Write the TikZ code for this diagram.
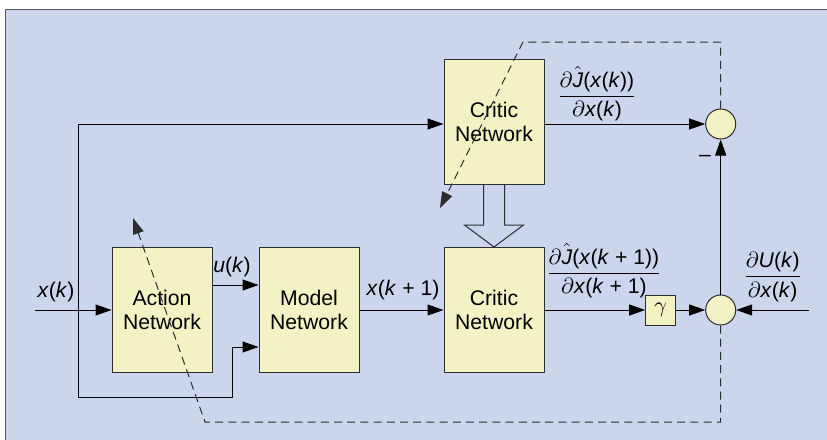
\documentclass[tikz,border=0pt]{standalone}
\usepackage{amsmath}
\usepackage{fontspec}
\setmainfont{Liberation Sans}
\usetikzlibrary{arrows.meta,calc}
\definecolor{bgblue}{RGB}{203,213,236}
\definecolor{boxyellow}{RGB}{242,242,196}
\definecolor{framegray}{RGB}{85,85,95}
\definecolor{linegray}{RGB}{45,45,45}
\newcommand{\iv}[1]{\textit{#1}}
\begin{document}
\begin{tikzpicture}[x=0.5pt,y=-0.5pt,
        font=\fontsize{10.6}{12.4}\selectfont,
        >={Triangle[length=8pt,width=5.5pt]},
        netbox/.style={draw=linegray,fill=boxyellow,line width=0.5pt,align=center,
            minimum width=50pt,minimum height=62.5pt,inner sep=0pt},
        sumnode/.style={draw=linegray,fill=boxyellow,circle,line width=0.5pt,
            minimum size=15pt,inner sep=0pt},
        sig/.style={line width=0.5pt},
        lbl/.style={inner sep=0.5pt},
        adapt/.style={dash pattern=on 4pt off 2.6pt,line width=0.5pt,draw=linegray}]
    \useasboundingbox (0,0) rectangle (827,440);
    \fill[bgblue] (5,9) rectangle (827,440);
    \draw[framegray,line width=0.8pt] (5.5,440) -- (5.5,9.5) -- (827,9.5);
    % blocks
    \node[netbox] (act) at (162,310) {Action\\Network};
    \node[netbox] (mod) at (309,310) {Model\\Network};
    \node[netbox] (cbot) at (494,310) {Critic\\Network};
    \node[netbox] (ctop) at (494,122) {Critic\\Network};
    \node[draw=linegray,fill=boxyellow,line width=0.5pt,minimum size=15pt,inner sep=0pt] (gam) at (660.7,310) {\(\gamma\)};
    \node[sumnode] (sbot) at (720.7,310) {};
    \node[sumnode] (stop) at (720.7,124) {};
    \coordinate (xin) at (35,310);
    \coordinate (jn) at (78,310);
    \coordinate (uin) at (809,310);
    % signals
    \draw[sig,->] (xin) -- (act.west);
    \draw[sig,->] (jn) |- ($(ctop.west)+(0,2)$);
    \draw[sig,->] (jn) -- (78,397) -- (232,397) |- ($(mod.west)+(0,37)$);
    \draw[sig,->] ($(act.east)+(0,-25)$) -- ($(mod.west)+(0,-25)$);
    \draw[sig,->] (mod.east) -- (cbot.west);
    \draw[sig,->] (cbot.east) -- (gam.west);
    \draw[sig,->] (gam.east) -- (sbot.west);
    \draw[sig,->] (uin) -- (sbot.east);
    \draw[sig,->] (sbot.north) -- (stop.south);
    \draw[sig,->] ($(ctop.east)+(0,2)$) -- (stop.west);
    % hollow arrow between critics
    \draw[linegray,line width=0.5pt] ($(ctop.south)+(-10.5,0)$) -- ++(0,40) -- ++(-19,0)
        -- (cbot.north) -- ($(ctop.south)+(29.5,40)$) -- ++(-19,0) -- ($(ctop.south)+(10.5,0)$);
    % adaptation paths
    \draw[adapt,->] (sbot.south) -- (720.7,422) -- (205,422) -- (133,218);
    \draw[adapt,->] (stop.north) -- (720.7,42) -- (523,42) -- (440,208);
    % labels
    \node[lbl] (lxk) at (56,292) {\iv{x}(\iv{k})};
    \node[lbl] (luk) at (232,267) {\iv{u}(\iv{k})};
    \node[lbl] (lxk1) at (403,290) {\iv{x}(\iv{k} + 1)};
    \node[lbl] (lminus) at (705,158) {\textendash};
    \node[lbl] (ljk) at (597,94) {\(\dfrac{\partial\hat{\mbox{\iv{J}}}\mbox{(\iv{x}(\iv{k}))}}{\partial\mbox{\iv{x}(\iv{k})}}\)};
    \node[lbl] (ljk1) at (604,271) {\(\dfrac{\partial\hat{\mbox{\iv{J}}}\mbox{(\iv{x}(\iv{k} + 1))}}{\partial\mbox{\iv{x}(\iv{k} + 1)}}\)};
    \node[lbl] (luk2) at (772.7,277) {\(\dfrac{\partial\mbox{\iv{U}(\iv{k})}}{\partial\mbox{\iv{x}(\iv{k})}}\)};
\end{tikzpicture}
\end{document}
